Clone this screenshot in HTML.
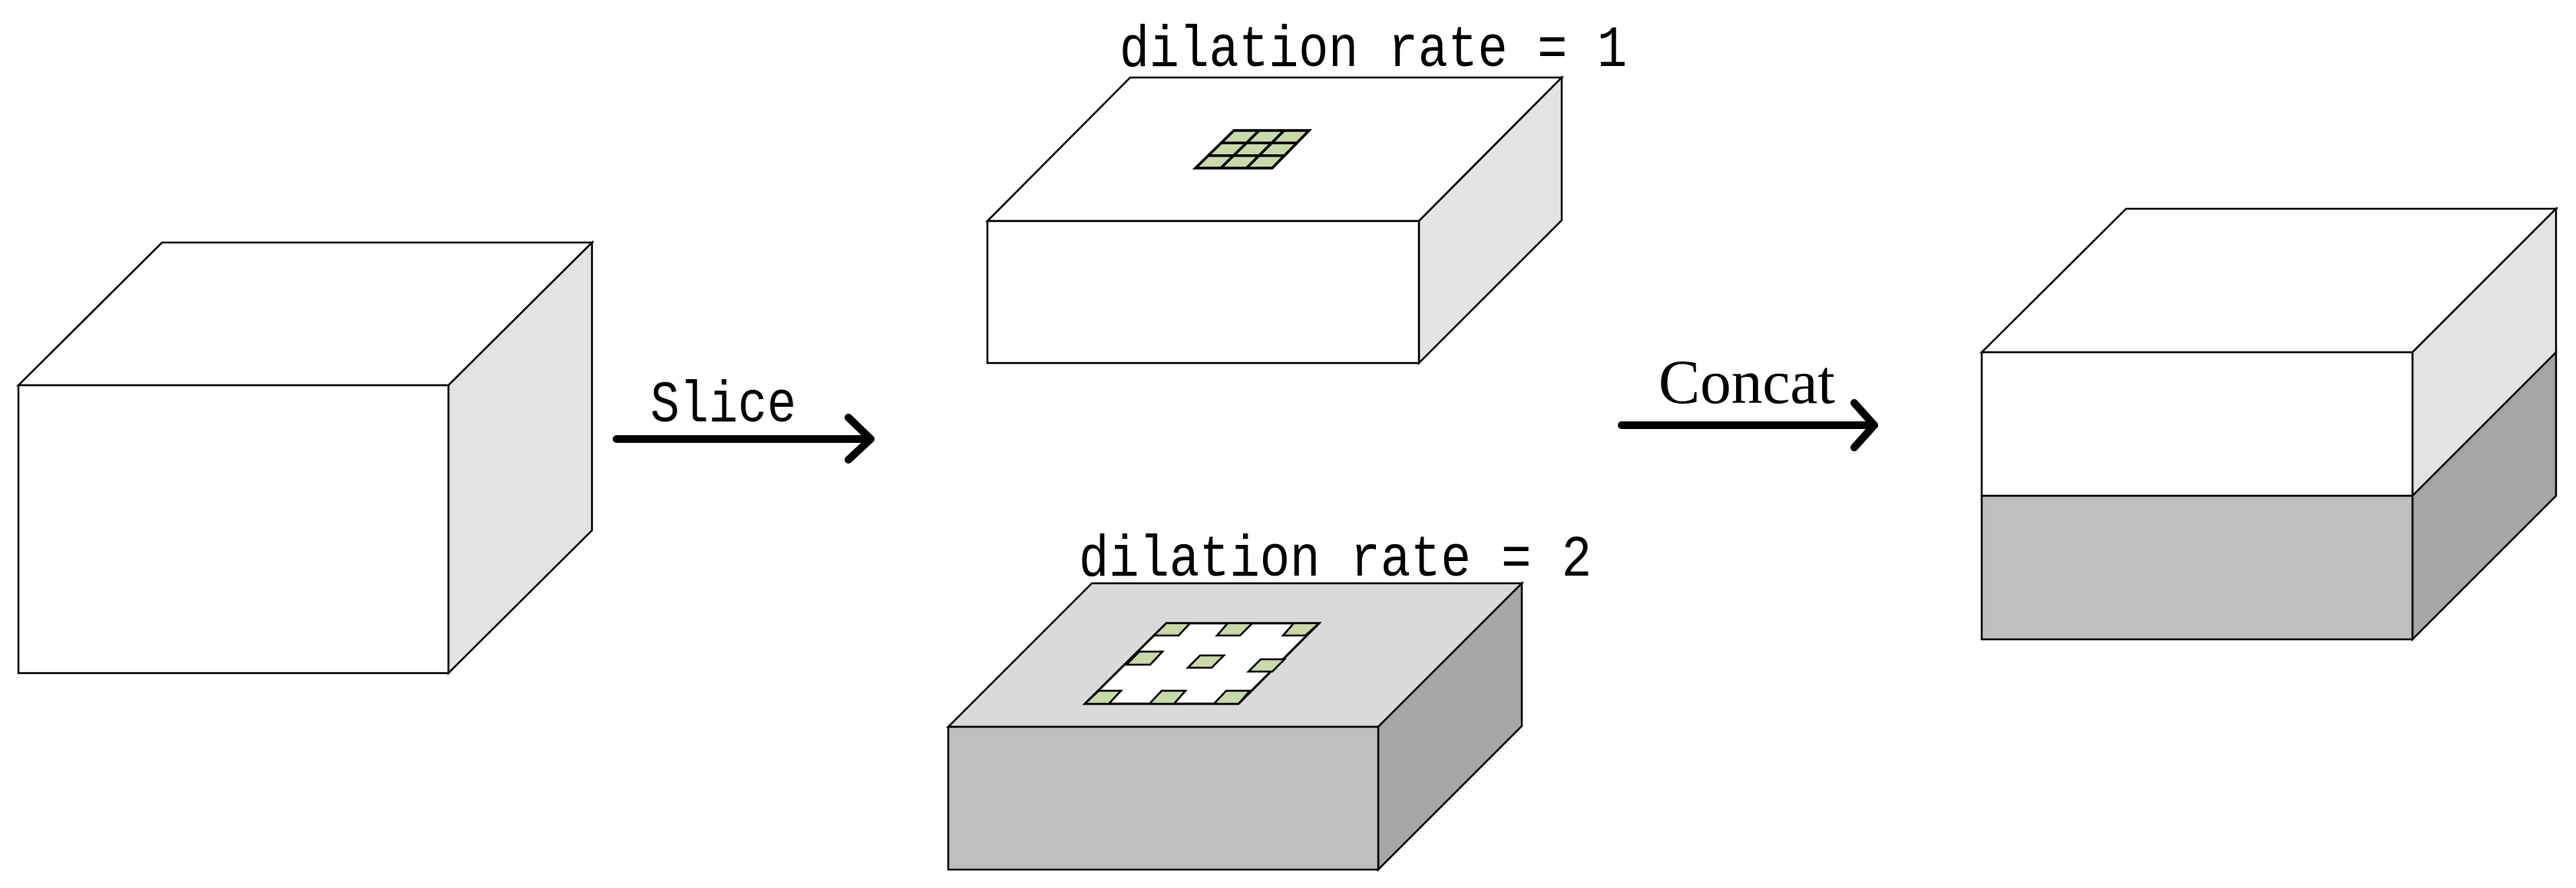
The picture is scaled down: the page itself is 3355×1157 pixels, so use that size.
<!DOCTYPE html>
<html><head><meta charset="utf-8"><style>html,body{margin:0;padding:0;background:#fff;}svg{display:block}</style></head>
<body>
<svg width="3355" height="1157" viewBox="0 0 3355 1157" xmlns="http://www.w3.org/2000/svg">
<g stroke="#000" stroke-width="2.5" stroke-linejoin="miter">
<!-- left box -->
<polygon points="24,502 211,316 771,316 584,502" fill="#fff"/>
<polygon points="584,502 771,316 771,691 584,877" fill="#e3e3e3"/>
<rect x="24" y="502" width="560" height="375" fill="#fff"/>
<!-- top slab -->
<polygon points="1286,288 1472,101 2034,101 1848,288" fill="#fff"/>
<polygon points="1848,288 2034,101 2034,287 1848,473" fill="#e3e3e3"/>
<rect x="1286" y="288" width="562" height="185" fill="#fff"/>
<!-- bottom slab -->
<polygon points="1235,947 1422,760 1982,760 1795,947" fill="#dadada"/>
<polygon points="1795,947 1982,760 1982,946 1795,1133" fill="#a6a6a6"/>
<rect x="1235" y="947" width="560" height="186" fill="#bfbfbf"/>
<!-- right box -->
<polygon points="2581,459 2769,272 3329,272 3142,459" fill="#fff"/>
<polygon points="3142,459 3329,272 3329,459 3142,646" fill="#e3e3e3"/>
<polygon points="3142,646 3329,459 3329,646 3142,833" fill="#a6a6a6"/>
<rect x="2581" y="459" width="561" height="187" fill="#fff"/>
<rect x="2581" y="646" width="561" height="187" fill="#bfbfbf"/>
</g>
<!-- 3x3 kernel -->
<g stroke="#000" stroke-width="3.5" fill="#c9d9a8">
<polygon points="1607,170 1705,170 1657,219 1557,219"/>
<line x1="1590.3" y1="186.3" x2="1689" y2="186.3"/>
<line x1="1573.7" y1="202.7" x2="1673" y2="202.7"/>
<line x1="1640" y1="170" x2="1590" y2="219"/>
<line x1="1672.5" y1="170" x2="1623.5" y2="219"/>
</g>
<!-- dilated kernel -->
<polygon points="1519,812 1718,812 1613,917 1413,917" fill="#fff" stroke="#000" stroke-width="3"/>
<g stroke="#000" stroke-width="2.5" fill="#c9d9a8">
<polygon points="1519,812 1550,812 1535,828 1503,828"/>
<polygon points="1599,812 1631,812 1615,828 1585,828"/>
<polygon points="1685,812 1718,812 1700,828 1671,828"/>
<polygon points="1484,849 1514,849 1498,866 1467,866"/>
<polygon points="1563,854 1594,854 1578,870 1547,870"/>
<polygon points="1642,859 1673,859 1657,875 1626,875"/>
<polygon points="1431,900 1460,900 1444,917 1413,917"/>
<polygon points="1513,900 1544,900 1529,917 1497,917"/>
<polygon points="1597,900 1628,900 1613,917 1581,917"/>
</g>
<!-- arrows -->
<g stroke="#000" stroke-width="10" stroke-linecap="round" stroke-linejoin="round" fill="none">
<line x1="803" y1="572" x2="1134" y2="572"/>
<polyline points="1105,544 1134,572 1105,599"/>
<line x1="2112" y1="554" x2="2441" y2="554"/>
<polyline points="2415,525 2441,554 2415,583"/>
</g>
<g fill="#000">
<text x="847" y="549" font-family="Liberation Mono, monospace" font-size="76" textLength="190" lengthAdjust="spacingAndGlyphs">Slice</text>
<text x="1458" y="86" font-family="Liberation Mono, monospace" font-size="76" textLength="661" lengthAdjust="spacingAndGlyphs">dilation rate = 1</text>
<text x="1405" y="750" font-family="Liberation Mono, monospace" font-size="76" textLength="668" lengthAdjust="spacingAndGlyphs">dilation rate = 2</text>
<text x="2160" y="525" font-family="Liberation Serif, serif" font-size="82" textLength="230" lengthAdjust="spacingAndGlyphs">Concat</text>
</g>
</svg>
</body></html>
